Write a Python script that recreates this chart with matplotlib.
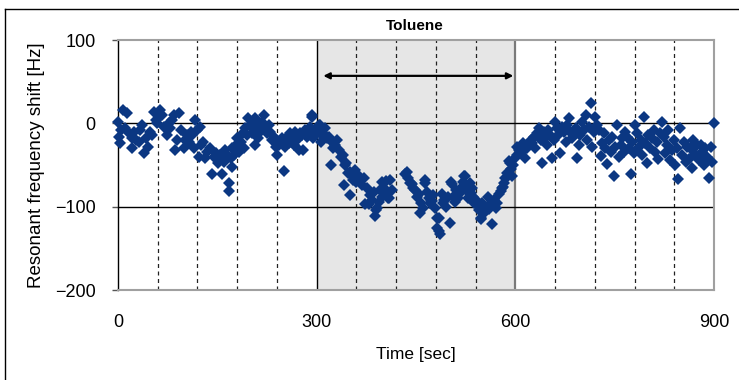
import matplotlib
matplotlib.use("Agg")
import matplotlib.pyplot as plt
from matplotlib.lines import Line2D

plt.rcParams['font.family'] = ['Liberation Sans', 'DejaVu Sans']

time_sec = [0, 1, 3, 5, 8, 11, 14, 17, 21, 21, 24, 27, 31, 33, 36, 39, 42, 46, 48, 51,
            54, 57, 59, 62, 64, 67, 70, 74, 77, 79, 82, 84, 86, 89, 92, 95, 99, 101, 104, 107,
            110, 112, 114, 117, 119, 122, 124, 126, 129, 132, 135, 139, 142, 145, 148, 151, 154, 157, 160, 162,
            165, 167, 168, 170, 172, 172, 175, 178, 180, 182, 185, 188, 190, 192, 195, 197, 200, 203, 205, 207,
            207, 210, 212, 215, 217, 220, 222, 225, 228, 230, 232, 235, 238, 240, 243, 245, 248, 250, 252, 255,
            258, 260, 263, 266, 268, 270, 273, 275, 278, 280, 283, 285, 288, 290, 293, 293, 295, 298, 300, 303,
            305, 306, 308, 310, 313, 316, 318, 321, 323, 325, 328, 331, 334, 337, 340, 341, 343, 345, 347, 350,
            351, 353, 355, 358, 360, 363, 366, 369, 372, 373, 376, 379, 381, 383, 386, 388, 389, 391, 394, 396,
            398, 399, 402, 404, 406, 408, 409, 411, 414, 434, 436, 438, 441, 443, 444, 446, 449, 451, 454, 456,
            458, 461, 463, 464, 466, 469, 471, 473, 474, 476, 478, 481, 481, 484, 484, 486, 489, 491, 493, 496,
            498, 501, 503, 504, 506, 509, 511, 514, 516, 519, 521, 523, 524, 526, 528, 531, 533, 534, 536, 538,
            540, 543, 545, 548, 548, 550, 553, 556, 558, 560, 563, 565, 568, 571, 573, 575, 578, 580, 582, 583,
            585, 587, 588, 590, 592, 593, 595, 597, 600, 602, 603, 605, 608, 610, 612, 615, 618, 620, 623, 625,
            628, 630, 633, 635, 638, 640, 643, 645, 648, 650, 653, 655, 658, 660, 663, 665, 668, 670, 673, 676,
            678, 681, 683, 686, 688, 691, 693, 696, 698, 701, 703, 706, 708, 711, 714, 716, 719, 721, 723, 726,
            729, 731, 734, 736, 739, 741, 744, 746, 749, 751, 754, 756, 759, 761, 764, 766, 769, 771, 774, 776,
            779, 781, 784, 786, 789, 791, 794, 796, 799, 801, 804, 806, 809, 811, 814, 816, 819, 821, 824, 826,
            829, 831, 834, 836, 839, 841, 844, 846, 849, 851, 854, 857, 859, 862, 864, 867, 869, 872, 874, 877,
            880, 882, 885, 887, 890, 892, 895, 897, 900]

shift_hz = [2, -16, -24, -8, 16, -6, 12, -12, -18, -30, -10, -20, -22, -8, -2, -36, -18, -28, -10, -14,
            14, 4, 0, 8, 16, 10, -4, -14, 0, -6, 4, 10, -32, -20, 12, -8, -30, -20, -14, -22,
            -10, -14, -30, 4, -8, -40, -4, -26, -22, -42, -34, -30, -61, -40, -36, -48, -38, -61, -46, -32,
            -38, -71, -81, -42, -30, -52, -38, -26, -18, -34, -22, -12, -30, -6, -14, 6, -2, -12, 0, 6,
            -26, -4, -18, -10, 2, 10, -6, -12, -2, -10, -20, -16, -28, -38, -26, -22, -18, -57, -28, -16,
            -24, -12, -18, -26, -10, -20, -32, -12, -14, -32, -8, -16, -10, -4, 8, 10, -18, -14, -8, -2,
            -2, -22, -14, -12, -6, -18, -16, -50, -22, -30, -26, -20, -32, -40, -38, -74, -50, -48, -60, -58,
            -86, -63, -68, -56, -70, -62, -69, -74, -66, -97, -77, -97, -86, -92, -82, -111, -104, -101, -94, -80,
            -88, -70, -78, -69, -84, -90, -89, -68, -80, -61, -58, -66, -72, -72, -73, -78, -80, -88, -85, -107,
            -96, -101, -68, -71, -82, -90, -95, -92, -93, -86, -101, -113, -125, -113, -129, -133, -85, -96, -92, -100,
            -88, -119, -70, -73, -88, -94, -80, -89, -84, -76, -70, -63, -63, -80, -90, -72, -84, -77, -88, -96,
            -92, -99, -104, -113, -115, -96, -108, -101, -88, -103, -96, -121, -92, -101, -95, -85, -81, -78, -76, -71,
            -66, -64, -59, -45, -48, -55, -63, -50, -42, -28, -38, -32, -36, -28, -24, -41, -30, -26, -20, -24,
            -16, -30, -12, -6, -20, -48, -10, -18, -26, -8, -14, -41, -20, 2, -6, -14, -36, -4, -10, -22,
            -2, 6, -10, -18, -12, -6, -41, -26, -14, 2, -8, 10, -20, -4, 24, -28, -10, 8, -2, -8,
            -39, -23, -12, -30, -49, -20, -34, -16, -63, -28, -2, -40, -26, -18, -34, -10, -16, -30, -61, -22,
            -36, -2, -12, -28, -20, -38, 8, -24, -47, -14, -30, -18, -8, -34, -22, -43, -12, 2, -16, -36,
            -26, -8, -44, -32, -20, -50, -30, -67, -6, -38, -22, -46, -28, -43, -30, -53, -20, -37, -26, -44,
            -26, -34, -50, -30, -40, -65, -28, -46, 0]

x_ticks = [0, 300, 600, 900]
y_ticks = [-200, -100, 0, 100]
dashed_x = [60, 120, 180, 240, 360, 420, 480, 540, 660, 720, 780, 840]
solid_y = [0, -100]
exposure = [300, 600]
arrow_span = [310, 597]
arrow_y = 57

fig = plt.figure(figsize=(7.39, 3.80), dpi=100)
ax = fig.add_axes([0.1597, 0.2368, 0.8065, 0.6579])

ax.axvspan(exposure[0], exposure[1], color='#e6e6e6', zorder=0, lw=0)
ax.axvline(exposure[0], color='black', lw=1.0, zorder=1)
ax.axvline(exposure[1], color='#7a7a7a', lw=1.6, zorder=1)
for xv in dashed_x:
    ax.axvline(xv, color='#222222', lw=0.9, ls=(0, (3.2, 2.8)), zorder=1)
for yv in solid_y:
    ax.axhline(yv, color='black', lw=1.0, zorder=1)

ax.annotate('', xy=(arrow_span[1], arrow_y), xytext=(arrow_span[0], arrow_y),
            arrowprops=dict(arrowstyle='<|-|>', color='black', lw=1.6,
                            mutation_scale=9, shrinkA=0, shrinkB=0), zorder=3)

ax.plot(time_sec, shift_hz, ls='none', marker='D', ms=6.4, mew=0,
        color='#0b3782', zorder=4, clip_on=False)

ax.set_xlim(0, 900)
ax.set_ylim(-200, 100)
ax.set_xticks(x_ticks)
ax.set_yticks(y_ticks)
ax.set_xticklabels([str(v) for v in x_ticks])
ax.set_yticklabels([str(v).replace('-', '\u2212') for v in y_ticks])
ax.tick_params(axis='x', length=0, pad=17, labelsize=13)
ax.tick_params(axis='y', length=4, width=1, color='#555555', pad=12, labelsize=13)

for side in ['top', 'right', 'bottom']:
    ax.spines[side].set_color('#a0a0a0')
    ax.spines[side].set_linewidth(1.5)
ax.spines['left'].set_color('black')
ax.spines['left'].set_linewidth(1.0)

ax.set_xlabel('Time [sec]', fontsize=12.5, labelpad=12)
ax.set_ylabel('Resonant frequency shift [Hz]', fontsize=13.5, labelpad=7)

fig.text(415 / 739, 1 - 26 / 380, 'Toluene', ha='center', va='center',
         fontsize=11, fontweight='bold')

# outer frame (top and left edges visible in the crop)
fig.add_artist(Line2D([5 / 739, 1.0], [1 - 9 / 380, 1 - 9 / 380], color='black', lw=1.0,
                      transform=fig.transFigure))
fig.add_artist(Line2D([5 / 739, 5 / 739], [0.0, 1 - 9 / 380], color='black', lw=1.0,
                      transform=fig.transFigure))

fig.savefig('out.png', dpi=100)
